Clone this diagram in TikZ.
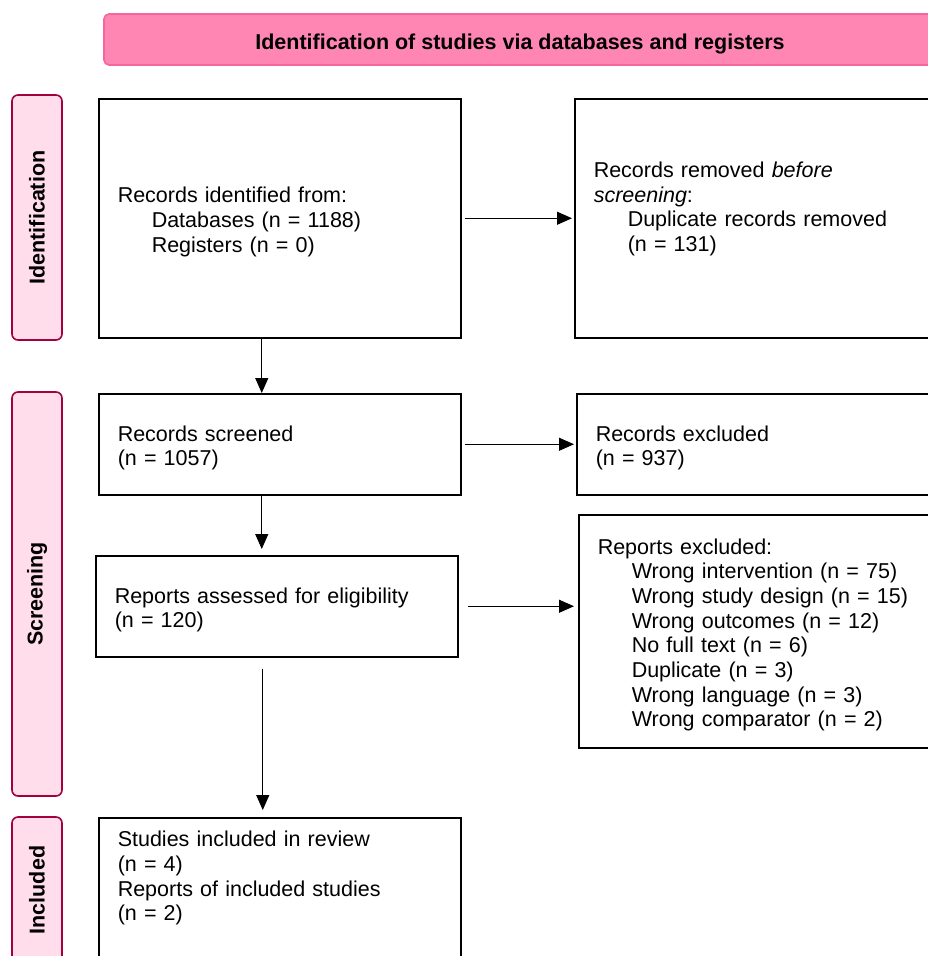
\documentclass[tikz,border=0pt]{standalone}
\usepackage{fontspec}
\setmainfont{Liberation Sans}
\usetikzlibrary{arrows.meta}

\definecolor{bannerpink}{HTML}{FF85B2}
\definecolor{bannerline}{HTML}{F5669D}
\definecolor{phasefill}{HTML}{FFDDEA}
\definecolor{phaseline}{HTML}{A3003E}

\newcommand{\ind}{\hspace*{34pt}}

\begin{document}
\begin{tikzpicture}[x=1pt, y=-1pt,
    every node/.style={font=\fontsize{21.5}{24.7}\selectfont},
    box/.style={draw, line width=1.5pt, anchor=north west, minimum width=362pt,
        text width=324pt, inner xsep=19pt, inner ysep=0pt, align=left,
        execute at begin node={\rule{0pt}{23pt}}},
    phase/.style={draw=phaseline, fill=phasefill, line width=1.6pt, rounded corners=6pt,
        rotate=90, minimum height=50pt, inner sep=0pt, font=\fontsize{21.5}{24.7}\selectfont\bfseries},
    banner/.style={draw=bannerline, fill=bannerpink, line width=1.6pt, rounded corners=5pt,
        minimum width=832pt, minimum height=51pt, text height=24pt, text depth=4.8pt,
        font=\fontsize{21.5}{24.7}\selectfont\bfseries},
    arrow/.style={line width=1pt, -{Triangle[length=15pt, width=13pt]}},
    ]
    \useasboundingbox (0,0) rectangle (928,956);
    \clip (0,0) rectangle (928,956);

    % header and phases
    \node[banner] (header) at (520,39.5) {Identification of studies via databases and registers};
    \node[phase, minimum width=245pt] (identification) at (37,217.5) {Identification};
    \node[phase, minimum width=404pt] (screening) at (37,594) {Screening};
    \node[phase, minimum width=146pt] (included) at (37,890) {Included};

    % boxes
    \node[box, minimum height=239pt] (identified) at (98,98) {Records identified from:\\
        \ind Databases (n = 1188)\\
        \ind Registers (n = 0)};
    \node[box, minimum height=239pt] (removed) at (574,98) {Records removed \textit{before}\\
        \textit{screening}:\\
        \ind Duplicate records removed\\
        \ind (n = 131)\\[6pt] ~};
    \node[box, minimum height=101pt] (screened) at (98,393) {Records screened\\(n = 1057)};
    \node[box, minimum height=101pt] (excluded) at (576,393) {Records excluded\\(n = 937)};
    \node[box, minimum height=101pt] (assessed) at (95,555) {Reports assessed for eligibility\\(n = 120)};
    \node[box, minimum height=233pt] (reportsexcl) at (578,514) {Reports excluded:\\
        \ind Wrong intervention (n = 75)\\
        \ind Wrong study design (n = 15)\\
        \ind Wrong outcomes (n = 12)\\
        \ind No full text (n = 6)\\
        \ind Duplicate (n = 3)\\
        \ind Wrong language (n = 3)\\
        \ind Wrong comparator (n = 2)};
    \node[box, minimum height=146pt] (studies) at (98,817) {Studies included in review\\
        (n = 4)\\
        Reports of included studies\\
        (n = 2)\\[12pt] ~};

    % connectors
    \draw[arrow, shorten <=3pt, shorten >=2pt] (identified) -- (removed);
    \draw[arrow, shorten <=3pt, shorten >=2pt] (screened.east) -- (screened.east -| excluded.west);
    \draw[arrow, shorten <=9pt, shorten >=4pt] (assessed.east) -- (assessed.east -| reportsexcl.west);
    \draw[arrow] ([xshift=-18pt]identified.south) -- ([xshift=-18pt]screened.north);
    \draw[arrow, shorten >=6pt] ([xshift=-18pt]screened.south) -- ([xshift=-18pt]screened.south |- assessed.north);
    \draw[arrow, shorten <=11pt, shorten >=7pt] ([xshift=-14pt]assessed.south) -- ([xshift=-14pt]assessed.south |- studies.north);
\end{tikzpicture}
\end{document}
